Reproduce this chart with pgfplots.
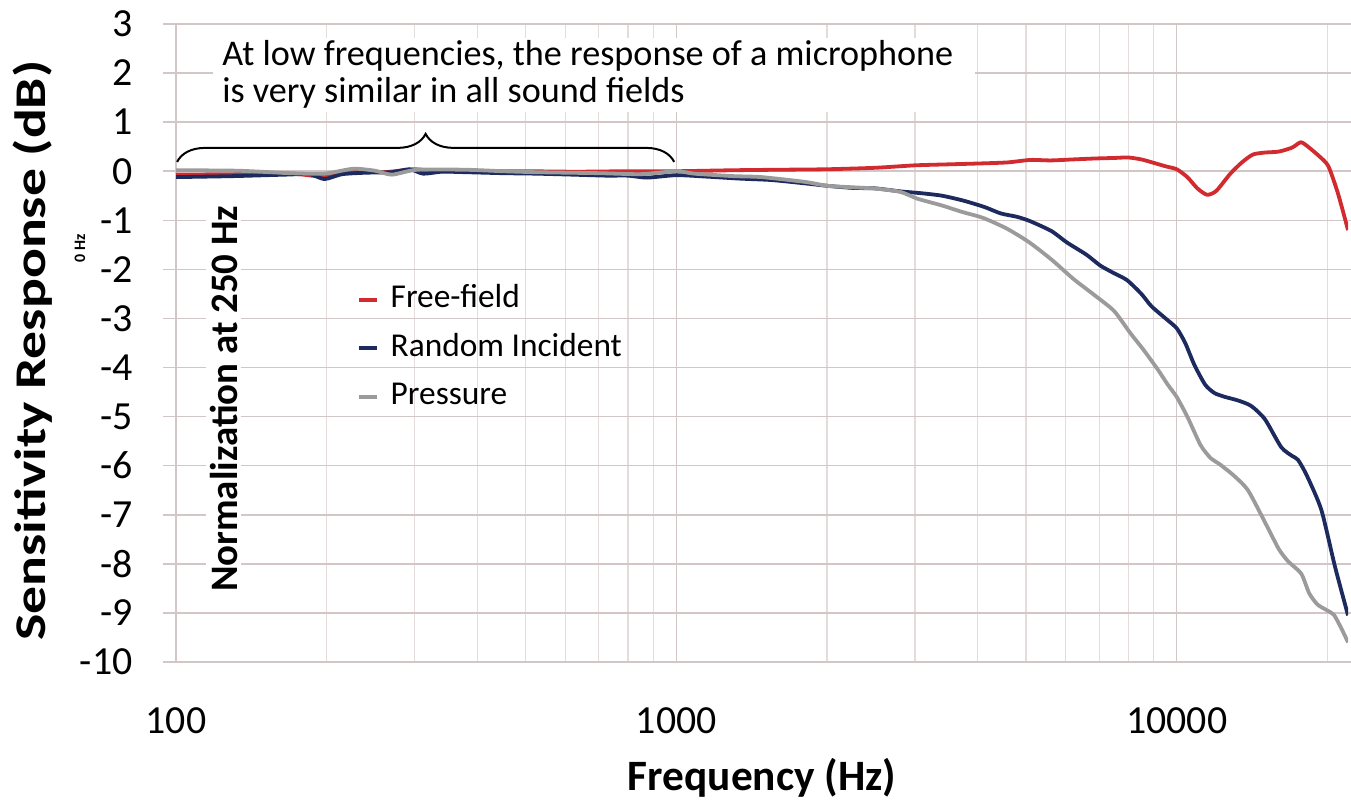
\documentclass[border=0pt]{standalone}
\usepackage{fontspec}
\setmainfont{Carlito}
\usepackage{graphicx}
\usepackage{pgfplots}
\pgfplotsset{compat=1.18}
\usetikzlibrary{decorations.pathreplacing}
\definecolor{ffred}{HTML}{D12A2F}
\definecolor{rinavy}{HTML}{1C2A5E}
\definecolor{prgrey}{HTML}{9B9B9B}
\definecolor{gridmaj}{HTML}{D2C6C6}
\definecolor{gridmin}{HTML}{E4DBDB}
\begin{document}
\begin{tikzpicture}[x=1bp,y=1bp]
\useasboundingbox (0,0) rectangle (1351,800);
\begin{axis}[
  at={(176bp,138bp)}, anchor=south west,
  scale only axis, width=1172bp, height=638bp,
  xmode=log, log basis x=10,
  xmin=100, xmax=22000, ymin=-10, ymax=3,
  xtick={100,1000,10000}, xticklabels={100,1000,10000},
  minor xtick={200,300,400,500,600,700,800,900,2000,3000,4000,5000,6000,7000,8000,9000,20000},
  ytick={-10,-9,-8,-7,-6,-5,-4,-3,-2,-1,0,1,2,3},
  yticklabels={-10,-9,-8,-7,-6,-5,-4,-3,-2,-1,0,1,2,3},
  grid=both,
  major grid style={draw=gridmaj, line width=1.5bp},
  minor grid style={draw=gridmin, line width=1.3bp},
  axis line style={draw=none},
  tick align=outside,
  major tick length=13bp,
  minor tick length=0bp,
  xtick style={draw=none},
  ytick style={draw=gridmaj, line width=1.5bp},
  ticklabel style={font=\fontsize{40}{44}\selectfont},
  yticklabel style={xshift=-27bp},
  xticklabel style={yshift=-29bp},
  xlabel={\textbf{Frequency (Hz)}},
  ylabel={\scalebox{1.27}[1]{\textbf{Sensitivity Response (dB)}}},
  xlabel style={at={(axis description cs:0.5,-0.182)}, anchor=center, font=\fontsize{43.5}{48}\selectfont},
  ylabel style={at={(axis description cs:-0.122,0.488)}, anchor=center, font=\fontsize{44}{48}\selectfont},
  legend style={at={(0.154,0.595)}, anchor=north west, draw=none, fill=none,
    font=\fontsize{33.5}{38}\selectfont, row sep=14.5bp, inner sep=0bp,
    nodes={inner sep=2bp, text height=23bp, text depth=7bp},
    /tikz/every odd column/.append style={column sep=10bp}},
  legend cell align=left,
  legend image code/.code={\draw[#1, line width=4bp] (0bp,0bp) -- (18bp,0bp);},
  clip=true,
]
\addplot[ffred, line width=3.8bp, smooth, tension=0.4] coordinates {
(100,-0.07) (130,-0.06) (170,-0.05) (198,-0.11) (225,0.0) (260,-0.02) (300,0.04)
(330,0.0) (400,0.0) (500,0.0) (630,-0.01) (800,0.0) (1000,0.0) (1300,0.02)
(1600,0.03) (2000,0.04) (2500,0.07) (3000,0.12) (3500,0.14) (4100,0.16)
(4600,0.18) (5100,0.23) (5600,0.22) (6200,0.24) (6900,0.26) (7500,0.27)
(8000,0.28) (8500,0.24) (9000,0.17) (9500,0.10) (10000,0.04) (10500,-0.12)
(11000,-0.35) (11500,-0.48) (12000,-0.40) (12800,-0.05) (13500,0.18)
(14200,0.34) (15000,0.38) (16000,0.40) (17000,0.48) (17700,0.59) (18300,0.50)
(19300,0.30) (20100,0.10) (21000,-0.45) (22000,-1.2)
};
\addlegendentry{Free-field}
\addplot[rinavy, line width=3.8bp, smooth, tension=0.4] coordinates {
(100,-0.12) (130,-0.10) (165,-0.07) (185,-0.06) (198,-0.16) (215,-0.06)
(240,-0.03) (270,-0.02) (293,0.04) (312,-0.05) (340,-0.01) (380,-0.02)
(450,-0.04) (525,-0.05) (620,-0.07) (724,-0.09) (800,-0.09) (875,-0.13)
(1000,-0.08) (1150,-0.11) (1335,-0.15) (1550,-0.18) (1816,-0.25) (2014,-0.30)
(2250,-0.34) (2500,-0.35) (2800,-0.41) (3100,-0.45) (3400,-0.50) (3750,-0.60)
(4130,-0.73) (4450,-0.86) (4800,-0.93) (5100,-1.02) (5620,-1.22) (6030,-1.45)
(6600,-1.70) (7030,-1.92) (7500,-2.08) (7960,-2.22) (8500,-2.50)
(8900,-2.75) (9500,-3.0) (10000,-3.2) (10400,-3.5) (10840,-3.94) (11400,-4.35)
(11900,-4.52) (12500,-4.60) (13250,-4.67) (14075,-4.78) (15000,-5.05)
(16170,-5.62) (17000,-5.80) (17470,-5.88) (18200,-6.20) (19460,-6.90)
(20710,-8.05) (22000,-9.05)
};
\addlegendentry{Random Incident}
\addplot[prgrey, line width=3.8bp, smooth, tension=0.4] coordinates {
(100,0.02) (133,0.01) (169,-0.04) (198,-0.05) (226,0.05) (250,0.01) (270,-0.07)
(303,0.03) (379,0.03) (450,0.0) (525,-0.02) (700,-0.04) (850,-0.06) (1000,0.0)
(1087,-0.05) (1300,-0.10) (1480,-0.12) (1816,-0.22) (2014,-0.30) (2472,-0.35)
(2800,-0.42) (3033,-0.56) (3400,-0.70) (3726,-0.83) (4100,-0.95) (4577,-1.17)
(5075,-1.45) (5620,-1.80) (6226,-2.20) (6900,-2.55) (7500,-2.85) (8080,-3.30)
(8600,-3.65) (9180,-4.05) (9600,-4.35) (10000,-4.60) (10500,-5.0) (11160,-5.58)
(11700,-5.85) (12150,-5.96) (13000,-6.20) (13900,-6.51) (15200,-7.26)
(16000,-7.70) (16700,-7.95) (17740,-8.20) (18400,-8.60) (19120,-8.83)
(20000,-8.95) (20620,-9.04) (21300,-9.30) (22000,-9.60)
};
\addlegendentry{Pressure}
\draw[decorate, decoration={brace, amplitude=28bp}, line width=2bp, black]
  (axis cs:100.5,0.19) -- (axis cs:990,0.19);
\fill[white] (axis cs:118.6,2.714) rectangle (axis cs:3948,1.206);
\node[anchor=base west, inner sep=0bp, font=\fontsize{36.3}{40}\selectfont]
  at (axis cs:123.6,2.150) {At low frequencies, the response of a microphone};
\node[anchor=base west, inner sep=0bp, font=\fontsize{36.3}{40}\selectfont]
  at (axis cs:123.6,1.410) {is very similar in all sound fields};
\node[fill=white, rotate=90, inner xsep=3bp, inner ysep=4bp, font=\fontsize{39}{44}\selectfont\bfseries]
  at (axis cs:124.5,-4.64) {Normalization at 250 Hz};
\end{axis}
\node[rotate=90, inner sep=0bp, font=\fontsize{16}{18}\selectfont\bfseries]
  at (80,552) {0 Hz};
\end{tikzpicture}
\end{document}
